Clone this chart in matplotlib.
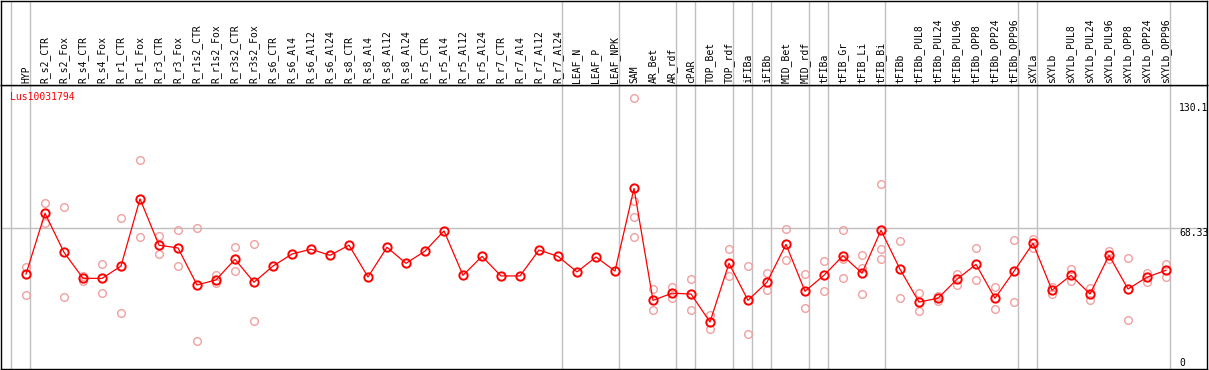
import matplotlib
matplotlib.use("Agg")
from matplotlib import pyplot as plt

# column labels (left to right)
samples = ["HYP", "R_s2_CTR", "R_s2_Fox", "R_s4_CTR", "R_s4_Fox", "R_r1_CTR", "R_r1_Fox",
           "R_r3_CTR", "R_r3_Fox", "R_r1s2_CTR", "R_r1s2_Fox", "R_r3s2_CTR", "R_r3s2_Fox",
           "R_s6_CTR", "R_s6_Al4", "R_s6_Al12", "R_s6_Al24", "R_s8_CTR", "R_s8_Al4",
           "R_s8_Al12", "R_s8_Al24", "R_r5_CTR", "R_r5_Al4", "R_r5_Al12", "R_r5_Al24",
           "R_r7_CTR", "R_r7_Al4", "R_r7_Al12", "R_r7_Al24", "LEAF_N", "LEAF_P", "LEAF_NPK",
           "SAM", "AR_Bet", "AR_rdf", "cPAR", "TOP_Bet", "TOP_rdf", "iFIBa", "iFIBb",
           "MID_Bet", "MID_rdf", "tFIBa", "tFIB_Gr", "tFIB_Li", "tFIB_Bi", "tFIBb",
           "tFIBb_PUL8", "tFIBb_PUL24", "tFIBb_PUL96", "tFIBb_OPP8", "tFIBb_OPP24",
           "tFIBb_OPP96", "sXYLa", "sXYLb", "sXYLb_PUL8", "sXYLb_PUL24", "sXYLb_PUL96",
           "sXYLb_OPP8", "sXYLb_OPP24", "sXYLb_OPP96"]

# mean expression per sample
means = [46.6, 75.5, 56.9, 44.6, 44.5, 50.4, 82.3, 60.3, 59.0, 41.4, 43.8, 53.6, 42.7,
         50.4, 56.1, 58.4, 55.5, 60.3, 45.2, 59.3, 51.7, 57.5, 67.1, 46.0, 55.0,
         45.7, 45.7, 58.0, 55.0, 47.6, 54.7, 48.0,
         87.3, 34.1, 37.5, 37.1, 23.8, 51.7, 34.1, 42.7, 60.7, 38.4, 46.0, 55.3, 47.0,
         67.4, 48.9, 33.3, 35.1, 44.1, 51.2, 35.1, 47.9, 61.2, 38.9, 46.0, 37.1, 55.5,
         39.5, 45.1, 48.4]

# individual replicates (empty where only the mean is shown)
replicates = [
    [49.9, 36.6], [80.4, 70.7], [78.3, 35.5], [45.7, 43.4], [51.2, 37.5], [73.1, 27.9],
    [100.6, 64.1], [64.7, 56.0], [67.4, 50.3], [68.3, 14.6], [46.1, 42.3], [59.3, 47.9],
    [60.7, 24.1],
    [], [], [], [], [], [], [], [], [], [], [], [], [], [], [], [], [], [], [],
    [130.1, 81.4, 73.6, 64.1], [39.5, 29.4], [40.3, 35.1], [44.1, 29.4], [27.1, 20.3],
    [58.4, 45.7], [50.3, 18.0], [47.0, 38.9], [68.0, 53.3], [46.5, 30.3], [52.7, 38.4],
    [67.4, 53.9, 44.6], [55.6, 49.3, 37.1], [89.2, 58.4, 53.9], [62.3, 35.1],
    [37.6, 28.9], [36.2, 33.8], [46.5, 41.5], [58.8, 43.6], [40.3, 29.8], [62.6, 33.3],
    [63.3, 59.0], [40.6, 37.1], [48.9, 43.2], [40.0, 34.1], [57.5, 53.6], [54.2, 24.6],
    [47.0, 42.8], [51.2, 45.1],
]

# last column of each sample group
group_ends = [0, 28, 31, 34, 35, 37, 38, 39, 41, 42, 45, 52, 53, 60]

y_ticks = [130.1, 68.33, 0]
gene = "Lus10031794"

W, H = 1209, 370
fig = plt.figure(figsize=(W / 100, H / 100), dpi=100)
plt.rcParams['font.family'] = ['DejaVu Sans Mono']

left, right = 1 / W, 1207 / W
ax = fig.add_axes([left, 1 / H, right - left, (369 - 85) / H])
hx = fig.add_axes([left, (370 - 85) / H, right - left, (85 - 0.5) / H], sharex=ax)

xs = list(range(len(samples)))
ax.set_xlim(-1.316, 62.158)
ax.set_ylim(1.48, 136.42)

for a in (ax, hx):
    for s in a.spines.values():
        s.set_color("black")
        s.set_linewidth(1.0)
    a.set_xticks([])
    a.set_yticks([])
    for g in [-1] + group_ends:
        a.axvline(g + 0.23, color="#c0c0c0", lw=1.0, zorder=0)
hx.set_ylim(0, 1)

ax.axhline(68.33, color="#c0c0c0", lw=1.0, zorder=0)

# replicate points
rx, ry = [], []
for i, reps in enumerate(replicates):
    for r in reps:
        rx.append(i)
        ry.append(r)
ax.plot(rx, ry, ls="none", marker="o", ms=5.5, mfc="none", mec="#f0a0a0", mew=1.0, zorder=2)

# mean profile
ax.plot(xs, means, color="red", lw=0.9, marker="o", ms=6, mfc="none", mec="red", mew=1.4, zorder=3)

for i, name in enumerate(samples):
    hx.text(i, 2 / 85, name, rotation=90, ha="center", va="bottom", fontsize=7, color="black")

fig.text(10 / W, 1 - 92 / H, gene, color="red", fontsize=7, va="top", ha="left")

# scale labels on the right
label_tops = [103, 228, 358]
for v, top in zip(y_ticks, label_tops):
    fig.text(1179 / W, 1 - top / H, f"{v:g}", fontsize=7, va="top", ha="left")

fig.savefig("out.png", dpi=100)
